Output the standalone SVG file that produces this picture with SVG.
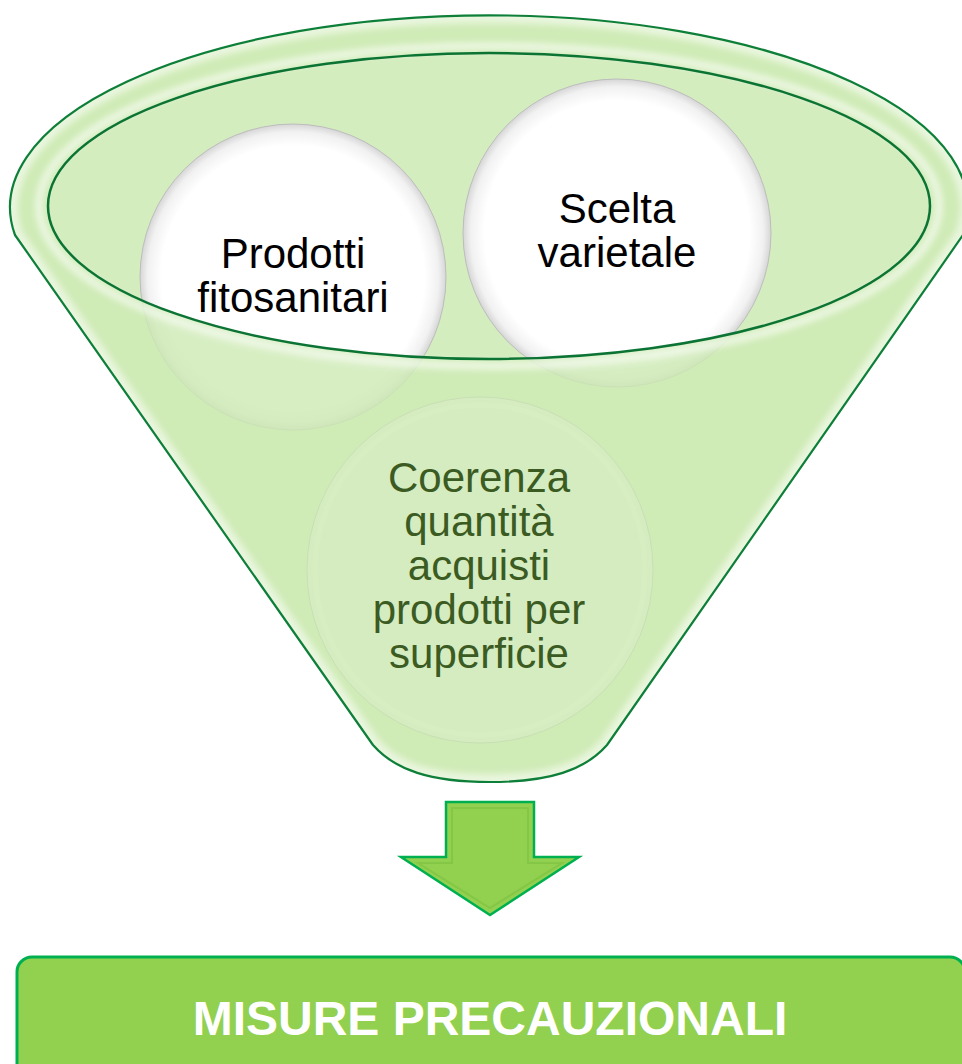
<svg xmlns="http://www.w3.org/2000/svg" width="962" height="1064" viewBox="0 0 962 1064">
  <style>
    .label { font-family: "Liberation Sans", Arial, sans-serif; font-size: 42px; text-anchor: middle; }
    .dark { fill: #000000; }
    .muted { fill: #3b5b22; }
    .title { font-family: "Liberation Sans", Arial, sans-serif; font-size: 48px; font-weight: bold; fill: #ffffff; text-anchor: middle; }
    .pearl { fill: url(#pearl); stroke: #bdbdbd; stroke-width: 1; }
  </style>
  <defs>
    <radialGradient id="pearl" cx="0.5" cy="0.5" r="0.5">
      <stop offset="0" stop-color="#ffffff"/>
      <stop offset="0.86" stop-color="#ffffff"/>
      <stop offset="0.95" stop-color="#f1f1f1"/>
      <stop offset="1" stop-color="#d6d6d6"/>
    </radialGradient>
    <filter id="soft" x="-10%" y="-10%" width="120%" height="120%">
      <feGaussianBlur stdDeviation="3"/>
    </filter>
    <path id="funnelShape" d="M15,235 A479,192 0 1 1 963,235 L607,745 C585,770 550,782 490,782 C430,782 395,770 373,745 Z"/>
    <clipPath id="funnelClip">
      <use href="#funnelShape"/>
    </clipPath>
  </defs>

  <!-- funnel base -->
  <g id="funnel-base">
    <use href="#funnelShape" fill="#d4edbf"/>
  </g>

  <!-- round items sitting in the funnel -->
  <g id="node-prodotti">
    <circle class="pearl" cx="293" cy="277" r="153"/>
  </g>
  <g id="node-scelta">
    <circle class="pearl" cx="617" cy="233" r="154"/>
  </g>
  <g id="node-coerenza-disc">
    <circle cx="480" cy="570" r="173" fill="#f4f4f4" stroke="#b5b5b5" stroke-width="1"/>
    <circle cx="480" cy="570" r="165" fill="none" stroke="#ffffff" stroke-width="5"/>
  </g>

  <!-- funnel body and rim drawn over the items -->
  <g id="funnel">
    <path d="M15,235 A479,192 0 1 1 963,235 L607,745 C585,770 550,782 490,782 C430,782 395,770 373,745 Z M48,206 A441,153 0 1 0 930,206 A441,153 0 1 0 48,206 Z" fill="#cdeab4" fill-opacity="0.8" fill-rule="evenodd"/>
    <g clip-path="url(#funnelClip)">
      <use href="#funnelShape" fill="none" stroke="#ffffff" stroke-width="16" stroke-opacity="0.55" filter="url(#soft)"/>
      <ellipse cx="489" cy="206" rx="450" ry="160" fill="none" stroke="#ffffff" stroke-width="8" stroke-opacity="0.6" filter="url(#soft)"/>
    </g>
    <use href="#funnelShape" fill="none" stroke="#0d7f38" stroke-width="2.2" stroke-linejoin="round"/>
    <ellipse cx="489" cy="206" rx="441" ry="153" fill="none" stroke="#0b7434" stroke-width="2.5"/>
  </g>

  <!-- labels -->
  <g id="node-prodotti-label">
    <text class="label dark" x="293" y="268">Prodotti</text>
    <text class="label dark" x="293" y="312">fitosanitari</text>
  </g>
  <g id="node-scelta-label">
    <text class="label dark" x="617" y="223">Scelta</text>
    <text class="label dark" x="617" y="267">varietale</text>
  </g>
  <g id="node-coerenza">
    <text class="label muted" x="479" y="492">Coerenza</text>
    <text class="label muted" x="479" y="536">quantità</text>
    <text class="label muted" x="479" y="580">acquisti</text>
    <text class="label muted" x="479" y="624">prodotti per</text>
    <text class="label muted" x="479" y="668">superficie</text>
  </g>

  <!-- downward arrow -->
  <g id="connectors">
    <path d="M446,802 H534 V857 H579 L490,915 L401,857 H446 Z" fill="#92d050" stroke="#00b050" stroke-width="2.5" stroke-linejoin="miter"/>
    <path d="M452,808 H528 V863 H562 L490,908 L418,863 H452 Z" fill="none" stroke="#7cbf3e" stroke-width="2" stroke-opacity="0.6"/>
  </g>

  <!-- result box -->
  <g id="node-misure">
    <rect x="17" y="957" width="948" height="130" rx="15" ry="15" fill="#92d050" stroke="#00b050" stroke-width="3"/>
    <text class="title" x="490" y="1035">MISURE PRECAUZIONALI</text>
  </g>
</svg>
